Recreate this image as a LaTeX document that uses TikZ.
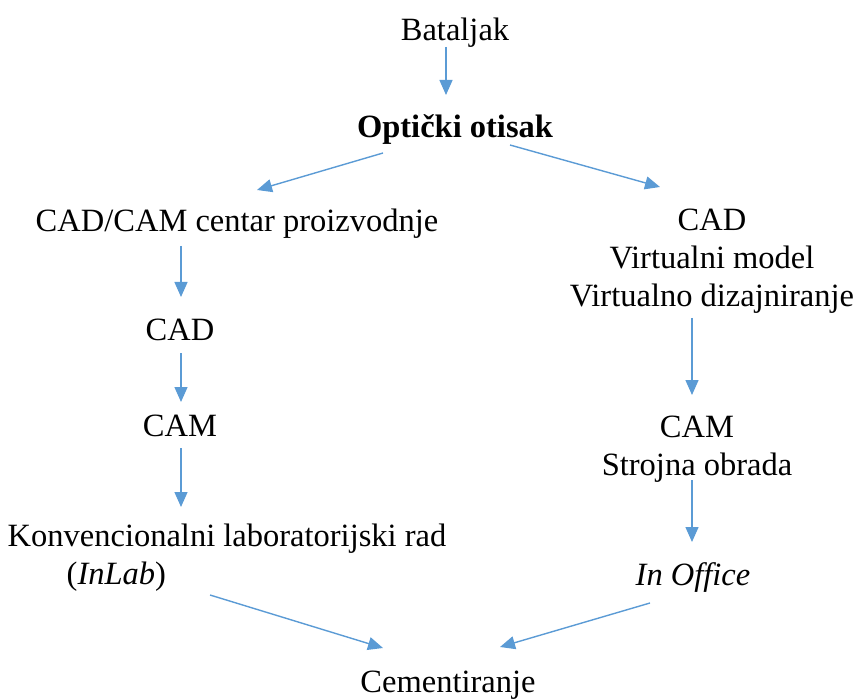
\documentclass[tikz,border=0pt]{standalone}
\usepackage{fontspec}
\setmainfont{Liberation Serif}
\usetikzlibrary{arrows.meta}
\definecolor{arrowblue}{HTML}{5B9BD5}

\begin{document}
\begin{tikzpicture}[x=1pt,y=-1pt,inner sep=0pt,
  txt/.style={font=\fontsize{32.5}{38}\selectfont,align=center},
  flow/.style={draw=arrowblue,line width=1.4pt,-{Triangle[length=15pt,width=13pt]}}]
\useasboundingbox (0,0) rectangle (856,700);
\node[txt] (b) at (455,33) {Bataljak};
\node[txt,font=\fontsize{32.5}{38}\selectfont\bfseries] (o) at (455,130) {Optički otisak};
\node[txt] (l0) at (237,224) {CAD/CAM centar proizvodnje};
\node[txt] (r0) at (712,261) {CAD\\Virtualni model\\Virtualno dizajniranje};
\node[txt] (l1) at (180,330) {CAD};
\node[txt] (l2) at (180,426) {CAM};
\node[txt,align=left] (l3) at (227,558) {Konvencionalni laboratorijski rad\\\hspace*{59pt}(\textit{InLab})};
\node[txt] (r1) at (697,449) {CAM\\Strojna obrada};
\node[txt] (r2) at (693,578) {\textit{In Office}};
\node[txt] (c) at (448,685) {Cementiranje};

\draw[flow] ([shift={(-9,14)}]b.center) -- ([shift={(-9,-35)}]o.center);
\draw[flow] ([shift={(-72,23)}]o.center) -- ([shift={(20,-34)}]l0.center);
\draw[flow] ([shift={(55,15)}]o.center) -- ([shift={(-52,-74)}]r0.center);
\draw[flow] ([shift={(-56,22)}]l0.center) -- ([shift={(1,-33)}]l1.center);
\draw[flow] ([shift={(1,23)}]l1.center) -- ([shift={(1,-24)}]l2.center);
\draw[flow] ([shift={(1,22)}]l2.center) -- ([shift={(-46,-51)}]l3.center);
\draw[flow] ([shift={(-20,57)}]r0.center) -- ([shift={(-5,-54)}]r1.center);
\draw[flow] ([shift={(-5,31)}]r1.center) -- ([shift={(-1,-36)}]r2.center);
\draw[flow] ([shift={(-17,37)}]l3.center) -- ([shift={(-65,-37)}]c.center);
\draw[flow] ([shift={(-43,25)}]r2.center) -- ([shift={(52,-38)}]c.center);
\end{tikzpicture}
\end{document}
